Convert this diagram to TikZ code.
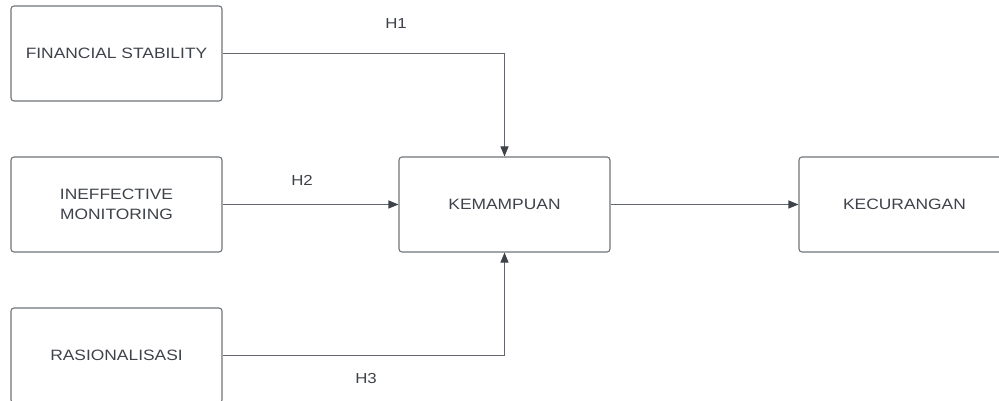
\documentclass[tikz,border=0pt]{standalone}
\usepackage{fontspec}
\setmainfont{Liberation Sans}[FakeStretch=1.16]
\usepackage{tikz}
\definecolor{boxgray}{RGB}{112, 116, 122}
\definecolor{textgray}{RGB}{62, 66, 73}
\definecolor{linegray}{RGB}{100, 104, 110}
\usetikzlibrary{arrows.meta}

\begin{document}
\begin{tikzpicture}[x=1pt, y=-1pt,
		box/.style={draw=boxgray, line width=1.1pt, rounded corners=3pt, minimum width=211pt, minimum height=95pt, inner sep=0pt, align=center, text=textgray, font=\fontsize{15}{20}\selectfont},
		hlabel/.style={text=textgray, font=\fontsize{14.5}{16}\selectfont},
		>={Triangle[length=10pt, width=8pt, color=textgray]},   %Pfeilspitzen
		link/.style={->, draw=linegray, line width=1.1pt}]
		%Bildbereich
		\useasboundingbox (0,0) rectangle (999,401);
		\clip (0,0) rectangle (999,401);
		%Boxen zeichnen
		\node[box] (fs)  at (116.5, 53.5)  {FINANCIAL STABILITY};
		\node[box] (im)  at (116.5, 204.5) {INEFFECTIVE\\MONITORING};
		\node[box] (ras) at (116.5, 355.5) {RASIONALISASI};
		\node[box] (kem) at (504.5, 204.5) {KEMAMPUAN};
		\node[box] (kec) at (904.5, 204.5) {KECURANGAN};
		%Pfeile zeichnen
		\draw[link] (fs.east) -| (kem.north);
		\draw[link] (im.east) -- (kem.west);
		\draw[link] (ras.east) -| (kem.south);
		\draw[link] (kem.east) -- (kec.west);
		%Beschriftung
		\node[hlabel] (h1) at (396, 24)  {H1};
		\node[hlabel] (h2) at (302, 180) {H2};
		\node[hlabel] (h3) at (366, 379) {H3};
\end{tikzpicture}
\end{document}
